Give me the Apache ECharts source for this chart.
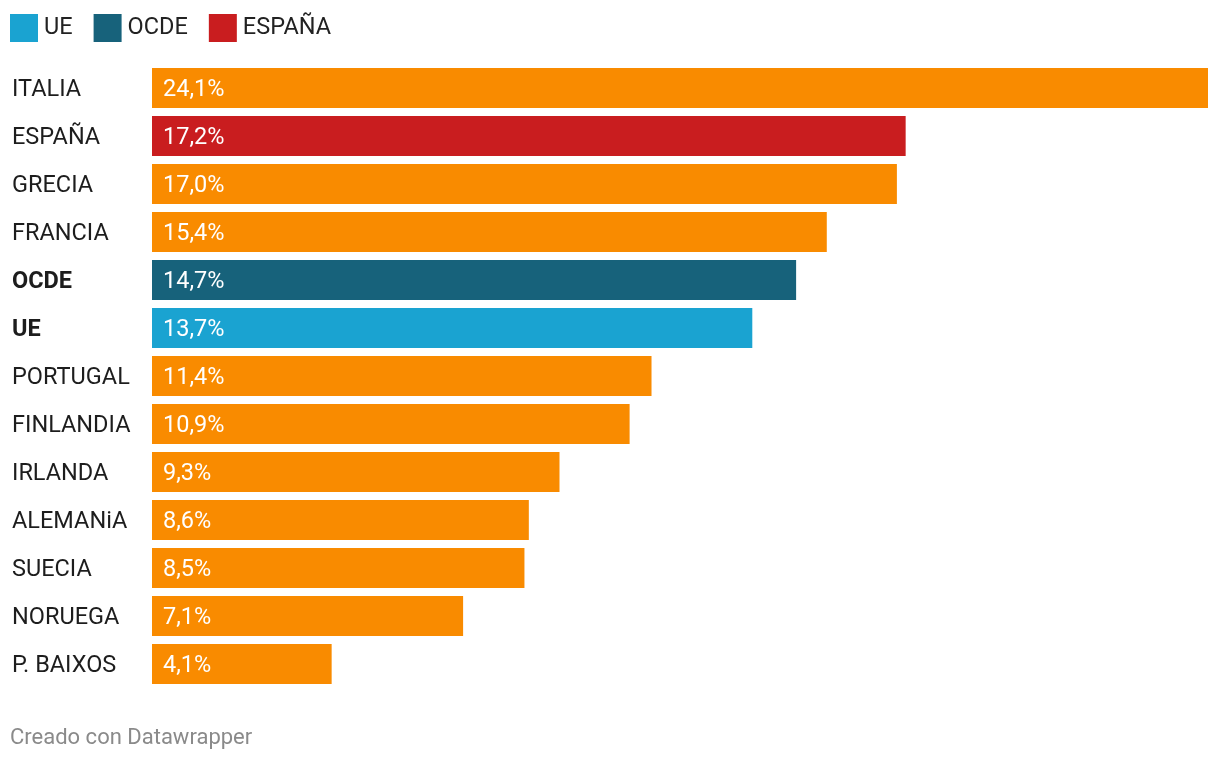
<!DOCTYPE html>
<html><head><meta charset="utf-8">
<script src="https://cdn.jsdelivr.net/npm/echarts@6/dist/echarts.min.js"></script>
<style>html,body{margin:0;padding:0;background:#fff}#c{width:1220px;height:762px}</style>
</head><body><div id="c"></div>
<script>
const categories = ['ITALIA','ESPAÑA','GRECIA','FRANCIA','OCDE','UE','PORTUGAL','FINLANDIA','IRLANDA','ALEMANiA','SUECIA','NORUEGA','P. BAIXOS'];
const values = [24.1,17.2,17.0,15.4,14.7,13.7,11.4,10.9,9.3,8.6,8.5,7.1,4.1];
const legendNames = ['UE','OCDE','ESPAÑA'];
const boldCategories = ['OCDE','UE'];
const footerText = 'Creado con Datawrapper';

const colors = {UE:'#1aa3d1', OCDE:'#17627b', 'ESPAÑA':'#c91d1f', other:'#f98b00'};
const FONT = 'Roboto';

const chart = echarts.init(document.getElementById('c'), null, {renderer:'canvas'});
const legendSeries = legendNames.map(n => ({
  name:n, type:'scatter', data:[], itemStyle:{color:colors[n], opacity:1}
}));
chart.setOption({
  animation:false,
  textStyle:{fontFamily:FONT},
  legend:{
    left:10, top:14, padding:0, itemWidth:28, itemHeight:28, itemGap:21, icon:'rect',
    selectedMode:false,
    textStyle:{fontFamily:FONT, fontSize:23.5, color:'#222', padding:[0,0,0,1]},
    data:legendNames.map(n=>({name:n, itemStyle:{color:colors[n], opacity:1}}))
  },
  grid:{left:152, right:12, top:64, bottom:74, containLabel:false},
  xAxis:{type:'value', min:0, max:24.1, show:false},
  yAxis:{
    type:'category', data:categories, inverse:true,
    axisLine:{show:false}, axisTick:{show:false}, splitLine:{show:false},
    axisLabel:{
      align:'left', margin:140, fontFamily:FONT, fontSize:23.5, color:'#1d1d1d',
      padding:[4,0,0,0],
      formatter: v => boldCategories.includes(v) ? '{b|'+v+'}' : v,
      rich:{b:{fontFamily:FONT, fontSize:23.5, fontWeight:'bold', color:'#1d1d1d'}}
    }
  },
  series:[{
    name:'valores', type:'bar', barWidth:40,
    data: values.map((v,i)=>({value:v, itemStyle:{color: colors[categories[i]] || colors.other}})),
    label:{
      show:true, position:'insideLeft', distance:11, offset:[0,2], color:'#fff',
      fontFamily:FONT, fontSize:23.5,
      formatter: p => p.value.toFixed(1).replace('.',',')+'%'
    }
  }].concat(legendSeries),
  graphic:[{
    type:'text', left:10, top:727,
    style:{text:footerText, fontFamily:FONT, fontSize:22, fill:'#8a8a8a'}
  }]
});
</script></body></html>
